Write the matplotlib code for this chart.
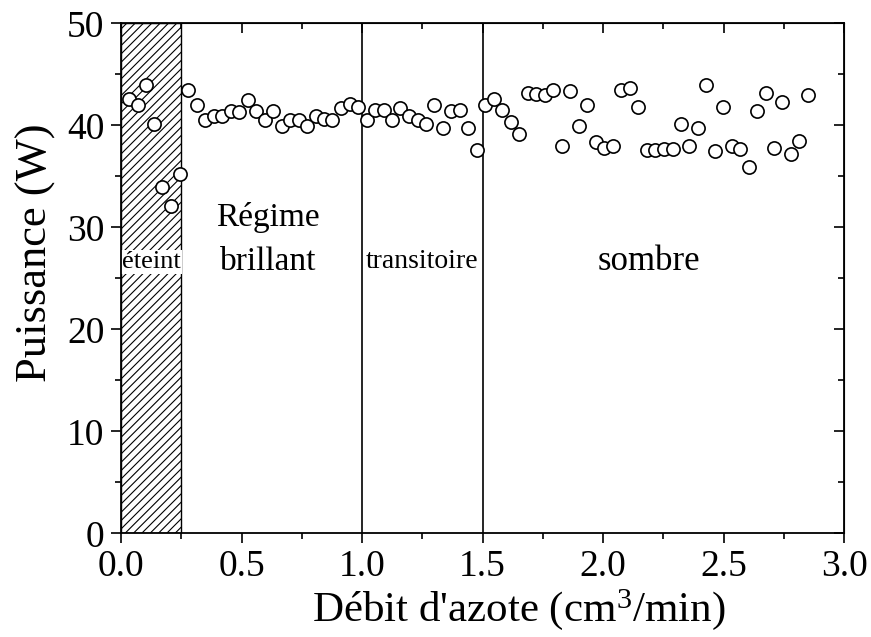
import matplotlib
matplotlib.use('Agg')
import matplotlib.pyplot as plt

# data
debit = [0.033, 0.069, 0.103, 0.137, 0.172, 0.208, 0.244, 0.279, 0.314, 0.35,
         0.385, 0.42, 0.455, 0.491, 0.527, 0.561, 0.596, 0.630, 0.666, 0.70,
         0.737, 0.772, 0.807, 0.843, 0.877, 0.913, 0.948, 0.983,
         1.019, 1.054, 1.09, 1.123, 1.159, 1.193, 1.23, 1.265, 1.30, 1.335,
         1.37, 1.406, 1.44, 1.476, 1.51, 1.546, 1.581, 1.617, 1.651, 1.687,
         1.723, 1.759, 1.793, 1.828, 1.863, 1.898, 1.934, 1.97, 2.005, 2.04,
         2.073, 2.11, 2.145, 2.18, 2.217, 2.252, 2.288, 2.323, 2.356, 2.392,
         2.428, 2.462, 2.496, 2.534, 2.568, 2.604, 2.639, 2.674, 2.709, 2.743,
         2.779, 2.814, 2.85]
puissance = [42.55, 41.95, 43.95, 40.15, 34.0, 32.05, 35.2, 43.45, 41.95, 40.5,
             40.95, 40.95, 41.45, 41.35, 42.45, 41.45, 40.5, 41.45, 39.95, 40.5,
             40.5, 39.95, 40.95, 40.65, 40.5, 41.7, 42.05, 41.8,
             40.55, 41.55, 41.55, 40.5, 41.65, 40.95, 40.55, 40.15, 41.95, 39.75,
             41.45, 41.55, 39.75, 37.55, 41.95, 42.55, 41.55, 40.3, 39.15, 43.15,
             43.1, 43.0, 43.45, 38.0, 43.35, 39.95, 41.95, 38.35, 37.8, 37.95,
             43.45, 43.65, 41.8, 37.55, 37.55, 37.65, 37.65, 40.15, 38.0, 39.75,
             43.95, 37.45, 41.8, 37.95, 37.7, 35.95, 41.45, 43.15, 37.8, 42.25,
             37.2, 38.5, 43.0]

eteint_fin = 0.25
limites = [1.0, 1.5]
xmaj = [0, 0.5, 1.0, 1.5, 2.0, 2.5, 3.0]
xmin = [0.25, 0.75, 1.25, 1.75, 2.25, 2.75]
xlab = ['0.0', '0.5', '1.0', '1.5', '2.0', '2.5', '3.0']
ymaj = [0, 10, 20, 30, 40, 50]
ymin = [5, 15, 25, 35, 45]

plt.rcParams['font.family'] = ['Liberation Serif', 'DejaVu Serif']
plt.rcParams['mathtext.fontset'] = 'custom'
plt.rcParams['mathtext.rm'] = 'Liberation Serif'
plt.rcParams['mathtext.default'] = 'regular'
plt.rcParams['hatch.linewidth'] = 0.8

fig = plt.figure(figsize=(8.71, 6.37), dpi=100)
ax = fig.add_axes([0.1389, 0.1628, 0.8304, 0.8006])

# zone eteinte (hachuree)
ax.axvspan(0, eteint_fin, facecolor='none', edgecolor='black', hatch='////', lw=1.0, zorder=1)
for xv in limites:
    ax.axvline(xv, color='black', lw=1.2, zorder=1)

ax.plot(debit, puissance, 'o', mfc='white', mec='black', ms=9.5, mew=1.2, zorder=3)

ax.text(0.125, 26.6, 'éteint', fontsize=19, ha='center', va='center',
        bbox=dict(facecolor='white', edgecolor='none', pad=1), zorder=2)
ax.text(0.61, 31.0, 'Régime', fontsize=24, ha='center', va='center')
ax.text(0.61, 26.6, 'brillant', fontsize=24, ha='center', va='center')
ax.text(1.25, 26.6, 'transitoire', fontsize=20, ha='center', va='center')
ax.text(2.19, 26.6, 'sombre', fontsize=25, ha='center', va='center')

ax.set_xlim(0, 3.0)
ax.set_ylim(0, 50)
ax.set_xticks(xmaj)
ax.set_xticks(xmin, minor=True)
ax.set_yticks(ymaj)
ax.set_yticks(ymin, minor=True)
ax.set_xticklabels(xlab)

ax.tick_params(which='both', direction='out', width=1.2, labelsize=27, pad=5)
ax.tick_params(which='major', length=7)
ax.tick_params(which='minor', length=4)
ax.tick_params(which='both', top=False, right=False)
for s in ax.spines.values():
    s.set_linewidth(1.3)

# ticks interieurs en haut et a droite
ax_top = ax.secondary_xaxis('top')
ax_top.set_xticks(xmaj)
ax_top.set_xticks(xmin, minor=True)
ax_top.tick_params(which='both', direction='in', width=1.2, labeltop=False)
ax_top.tick_params(which='major', length=7)
ax_top.tick_params(which='minor', length=4)
ax_right = ax.secondary_yaxis('right')
ax_right.set_yticks(ymaj)
ax_right.set_yticks(ymin, minor=True)
ax_right.tick_params(which='both', direction='in', width=1.2, labelright=False)
ax_right.tick_params(which='major', length=7)
ax_right.tick_params(which='minor', length=4)

ax.set_xlabel("Débit d'azote (cm$^{3}$/min)", fontsize=31)
ax.set_ylabel('Puissance (W)', fontsize=32)
ax.xaxis.set_label_coords(0.55, -0.105)
ax.yaxis.set_label_coords(-0.09, 0.55)

fig.savefig('out.png', dpi=100)
